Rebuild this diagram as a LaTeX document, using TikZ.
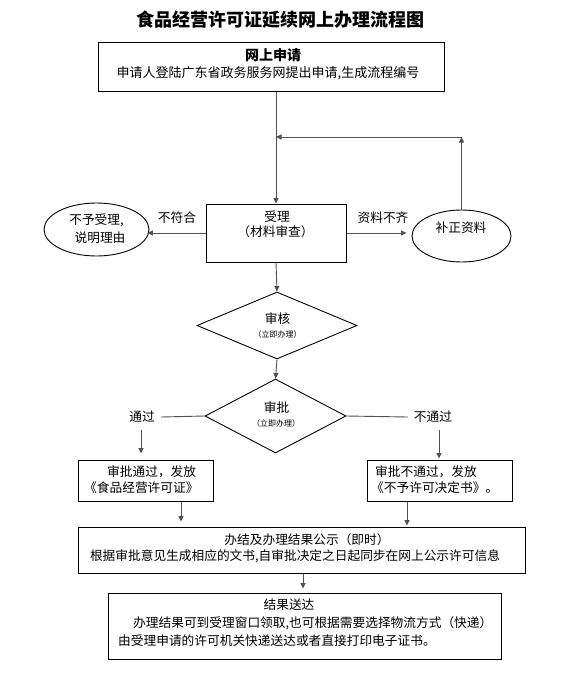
\documentclass[tikz,border=0pt]{standalone}
\usepackage{fontspec}
\setmainfont{Noto Sans CJK SC}
\usetikzlibrary{arrows.meta,shapes.geometric}
\definecolor{lncol}{RGB}{80,80,80}
\begin{document}
\begin{tikzpicture}[x=1pt,y=-1pt,
  bx/.style={draw=black,line width=1pt,inner sep=0pt},
  el/.style={draw=black,ellipse,line width=0.9pt,inner sep=0pt},
  dm/.style={draw=black,diamond,line width=0.9pt,inner sep=0pt},
  txt/.style={inner sep=0pt,font=\fontsize{12.7}{15}\selectfont},
  sml/.style={inner sep=0pt,font=\fontsize{8}{10}\selectfont},
  ln/.style={draw=lncol,line width=0.9pt},
  arr/.style={ln,-{Triangle[length=5.5pt,width=5pt]}}]
\useasboundingbox (0,0) rectangle (574,674);
% title
\node[inner sep=0pt,font=\fontsize{18}{20}\selectfont\bfseries] (title) at (280,20) {食品经营许可证延续网上办理流程图};
% box 1
\node[bx,minimum width=346pt,minimum height=49pt] (sq) at (271,67.5) {};
\node[txt,font=\fontsize{14}{16}\selectfont\bfseries] (t1a) at (273,55) {网上申请};
\node[txt,font=\fontsize{13}{15}\selectfont] (t1b) at (268,73) {申请人登陆广东省政务服务网提出申请,生成流程编号};
% receive
\node[bx,minimum width=140pt,minimum height=58pt] (sl) at (276,233) {};
\node[txt] (t2a) at (277,217) {受理};
\node[txt] (t2b) at (275.5,232) {（材料审查）};
% ellipses
\node[el,minimum width=105pt,minimum height=53pt] (bysl) at (96.5,229.5) {};
\node[txt] (t3a) at (96.5,220) {不予受理,};
\node[txt] (t3b) at (100,238) {说明理由};
\node[el,minimum width=99pt,minimum height=52pt] (bz) at (461.5,236) {};
\node[txt] (t4) at (461,228) {补正资料};
% labels
\node[txt] (bfh) at (177,218) {不符合};
\node[txt] (zlbq) at (383,218) {资料不齐};
% diamonds
\node[dm,minimum width=160pt,minimum height=67pt] (sh) at (277,325.5) {};
\node[txt] (t5a) at (277.5,319) {审核};
\node[sml] (t5b) at (277.5,334) {（立即办理）};
\node[dm,minimum width=141pt,minimum height=74pt] (sp) at (275.5,416) {};
\node[txt] (t6a) at (276.5,408) {审批};
\node[sml] (t6b) at (276,423) {（立即办理）};
% pass / fail labels
\node[txt] (tg) at (142,417) {通过};
\node[txt] (btg) at (433,417) {不通过};
% result boxes
\node[bx,minimum width=135pt,minimum height=41pt] (tgb) at (145.5,480.5) {};
\node[txt,anchor=west] (t7a) at (107,472) {审批通过，发放};
\node[txt,anchor=west] (t7b) at (84,488) {《食品经营许可证》};
\node[bx,minimum width=145pt,minimum height=41pt] (btgb) at (439.5,480.5) {};
\node[txt,anchor=west] (t8a) at (375,472) {审批不通过，发放};
\node[txt,anchor=west] (t8b) at (371,488) {《不予许可决定书》。};
% box 4
\node[bx,minimum width=447pt,minimum height=46pt] (gs) at (301.5,550) {};
\node[txt] (t9a) at (307,540) {办结及办理结果公示（即时）};
\node[txt] (t9b) at (295,556) {根据审批意见生成相应的文书,自审批决定之日起同步在网上公示许可信息};
% box 5
\node[bx,minimum width=393pt,minimum height=66pt] (sd) at (304.5,626) {};
\node[txt] (t10a) at (289,605) {结果送达};
\node[txt,anchor=west] (t10b) at (133,623) {办理结果可到受理窗口领取,也可根据需要选择物流方式（快递）};
\node[txt,anchor=west] (t10c) at (118,641) {由受理申请的许可机关快递送达或者直接打印电子证书。};
% connectors
\draw[arr] (sq.south -| sl.north) -- (sl.north);
\coordinate (jn) at (sl.north |- 0,137);
\coordinate (cr) at (bz.north |- jn);
\draw[arr] (bz.north) -- (cr);
\draw[arr] (cr) -- (jn);
\draw[arr,shorten >=-2pt] (sl.west) -- (sl.west -| bysl.east);
\draw[arr,shorten >=5pt] (sl.east) -- (sl.east -| bz.west);
\draw[arr] (sl.south) -- (sh.north);
\draw[arr] (sh.south) -- (sp.north);
\draw[ln] (sp.west) -- ([xshift=6pt]tg.east);
\draw[ln] (sp.east) -- ([xshift=-6pt]btg.west);
\coordinate (ta) at ([xshift=-1pt,yshift=-7pt]tg.south);
\draw[arr,shorten >=6pt] (ta) -- (ta |- tgb.north);
\coordinate (bta) at ([xshift=6pt,yshift=-7pt]btg.south);
\draw[arr,shorten >=1pt] (bta) -- (bta |- btgb.north);
\coordinate (la) at ([xshift=35.5pt]tgb.south);
\draw[arr,shorten >=5pt] (la) -- (la |- gs.north);
\coordinate (ra) at ([xshift=-32.5pt]btgb.south);
\draw[arr,shorten >=1pt] (ra) -- (ra |- gs.north);
\coordinate (ga) at ([xshift=1.5pt]gs.south);
\draw[arr,shorten >=4pt] (ga) -- (ga |- sd.north);
\end{tikzpicture}
\end{document}
